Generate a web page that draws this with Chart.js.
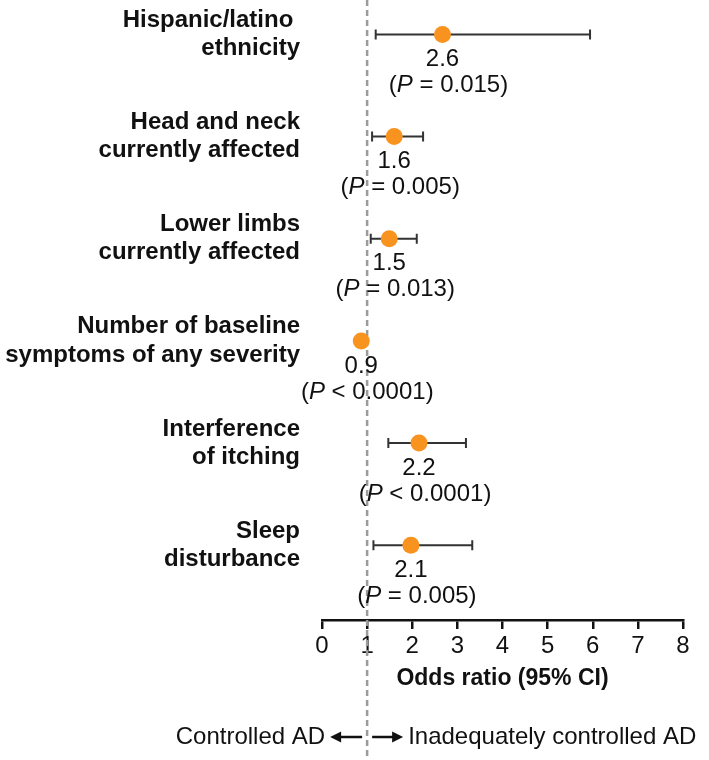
<!DOCTYPE html>
<html>
<head>
<meta charset="utf-8">
<script src="https://cdn.jsdelivr.net/npm/chart.js@4"></script>
<style>
  html, body { margin: 0; padding: 0; background: #fff; }
  #wrap { width: 709px; height: 760px; position: relative; }
</style>
</head>
<body>
<div id="wrap"><canvas id="forest"></canvas></div>
<script>
// rows, top to bottom
var rowLabels = [
  ["Hispanic/latino ", "ethnicity"],
  ["Head and neck", "currently affected"],
  ["Lower limbs", "currently affected"],
  ["Number of baseline", "symptoms of any severity"],
  ["Interference", "of itching"],
  ["Sleep", "disturbance"]
];
var oddsRatio = [2.67, 1.6, 1.49, 0.87, 2.15, 1.97];
var ciLow = [1.19, 1.11, 1.08, 0.83, 1.47, 1.14];
var ciHigh = [5.94, 2.24, 2.10, 0.90, 3.19, 3.33];
var orText = ["2.6", "1.6", "1.5", "0.9", "2.2", "2.1"];
var pText = ["= 0.015", "= 0.005", "= 0.013", "< 0.0001", "< 0.0001", "= 0.005"];
var xTicks = [0, 1, 2, 3, 4, 5, 6, 7, 8];
var refLine = 1;

var FONT = "'Liberation Sans', Arial, Helvetica, sans-serif";

(function () {
  var points = oddsRatio.map(function (v, i) {
    return { x: v, y: i };
  });

  function arrow(ctx, from, to, y) {
    var dir = to > from ? 1 : -1;
    ctx.beginPath();
    ctx.moveTo(from, y);
    ctx.lineTo(to - dir * 8, y);
    ctx.stroke();
    ctx.beginPath();
    ctx.moveTo(to, y);
    ctx.lineTo(to - dir * 11, y - 5.5);
    ctx.lineTo(to - dir * 11, y + 5.5);
    ctx.closePath();
    ctx.fill();
  }

  var forestPlugin = {
    id: "forest",
    beforeDatasetsDraw: function (chart) {
      var ctx = chart.ctx;
      var xs = chart.scales.x;
      var ys = chart.scales.y;
      var x1 = xs.getPixelForValue(refLine);

      // reference line, runs over whole canvas
      ctx.save();
      ctx.strokeStyle = "#9b9b9b";
      ctx.lineWidth = 2.5;
      ctx.setLineDash([6, 4]);
      ctx.beginPath();
      ctx.moveTo(x1, 0);
      ctx.lineTo(x1, chart.height);
      ctx.stroke();
      ctx.restore();

      // error bars
      ctx.save();
      ctx.strokeStyle = "#333";
      ctx.lineWidth = 2;
      for (var i = 0; i < oddsRatio.length; i++) {
        var y = ys.getPixelForValue(i);
        var a = xs.getPixelForValue(ciLow[i]);
        var b = xs.getPixelForValue(ciHigh[i]);
        ctx.beginPath();
        ctx.moveTo(a, y);
        ctx.lineTo(b, y);
        ctx.moveTo(a, y - 5);
        ctx.lineTo(a, y + 5);
        ctx.moveTo(b, y - 5);
        ctx.lineTo(b, y + 5);
        ctx.stroke();
      }
      ctx.restore();
    },
    afterDatasetsDraw: function (chart) {
      var ctx = chart.ctx;
      var xs = chart.scales.x;
      var ys = chart.scales.y;

      ctx.save();
      ctx.fillStyle = "#111";
      ctx.textBaseline = "middle";
      for (var i = 0; i < oddsRatio.length; i++) {
        var px = xs.getPixelForValue(oddsRatio[i]);
        var py = ys.getPixelForValue(i);

        ctx.font = "24px " + FONT;
        ctx.textAlign = "center";
        ctx.fillText(orText[i], px, py + 25);

        // "(P = ...)" with italic P
        var reg = "24px " + FONT;
        var ita = "italic 24px " + FONT;
        ctx.font = reg;
        var w1 = ctx.measureText("(").width;
        var w3 = ctx.measureText(" " + pText[i] + ")").width;
        ctx.font = ita;
        var w2 = ctx.measureText("P").width;
        var left = px + 6 - (w1 + w2 + w3) / 2;
        ctx.textAlign = "left";
        ctx.font = reg;
        ctx.fillText("(", left, py + 51);
        ctx.font = ita;
        ctx.fillText("P", left + w1, py + 51);
        ctx.font = reg;
        ctx.fillText(" " + pText[i] + ")", left + w1 + w2, py + 51);
      }
      ctx.restore();
    },
    afterDraw: function (chart) {
      var ctx = chart.ctx;
      var xs = chart.scales.x;

      // direction annotation
      var x1 = xs.getPixelForValue(refLine);
      var ty = 737;
      ctx.save();
      ctx.fillStyle = "#111";
      ctx.strokeStyle = "#111";
      ctx.font = "24px " + FONT;
      ctx.textBaseline = "middle";
      ctx.textAlign = "right";
      ctx.fillText("Controlled AD", x1 - 42, ty);
      ctx.textAlign = "left";
      ctx.fillText("Inadequately controlled AD", x1 + 41, ty);
      ctx.lineWidth = 2.5;
      arrow(ctx, x1 - 5, x1 - 37, ty);
      arrow(ctx, x1 + 5, x1 + 36, ty);
      ctx.restore();
    }
  };

  new Chart(document.getElementById("forest"), {
    type: "scatter",
    data: {
      datasets: [
        {
          data: points,
          backgroundColor: "#F7931E",
          borderWidth: 0,
          pointRadius: 8.5,
          pointHoverRadius: 8.5
        }
      ]
    },
    options: {
      responsive: true,
      maintainAspectRatio: false,
      animation: false,
      layout: { padding: { left: 0, right: 26, top: 0, bottom: 0 } },
      plugins: {
        legend: { display: false },
        tooltip: { enabled: false }
      },
      scales: {
        x: {
          type: "linear",
          min: 0,
          max: 8,
          afterFit: function (scale) {
            scale.height = 140;
          },
          afterBuildTicks: function (scale) {
            scale.ticks = xTicks.map(function (v) {
              return { value: v };
            });
          },
          grid: {
            display: true,
            drawOnChartArea: false,
            drawTicks: true,
            tickLength: 9,
            color: "#111",
            lineWidth: 2.5
          },
          border: { display: true, color: "#111", width: 2.5 },
          ticks: {
            padding: 3,
            color: "#111",
            font: { family: FONT, size: 24 }
          },
          title: {
            display: true,
            text: "Odds ratio (95% CI)",
            color: "#111",
            font: { family: FONT, size: 23, weight: "bold" },
            padding: { top: 0, bottom: 68 }
          }
        },
        y: {
          type: "linear",
          reverse: true,
          min: -0.254,
          max: 5.732,
          afterFit: function (scale) {
            scale.width = 322;
            scale.paddingTop = 0;
            scale.paddingBottom = 0;
          },
          afterBuildTicks: function (scale) {
            scale.ticks = rowLabels.map(function (l, i) {
              return { value: i };
            });
          },
          grid: { display: false, drawTicks: false },
          border: { display: false },
          ticks: {
            padding: 22,
            color: "#111",
            font: { family: FONT, size: 24, weight: "bold", lineHeight: 1.17 },
            callback: function (v) {
              return rowLabels[v];
            }
          }
        }
      }
    },
    plugins: [forestPlugin]
  });
})();
</script>
</body>
</html>
